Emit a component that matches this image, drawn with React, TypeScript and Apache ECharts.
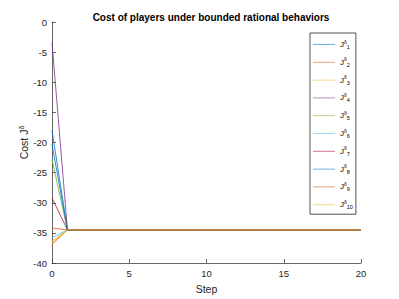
import React, { useEffect, useRef } from "react";
import * as echarts from "echarts";

const steps = [0,1,2,3,4,5,6,7,8,9,10,11,12,13,14,15,16,17,18,19,20];
const names = ["J1","J2","J3","J4","J5","J6","J7","J8","J9","J10"];
const colors = ["#0072BD","#D95319","#EDB120","#7E2F8E","#77AC30","#4DBEEE","#A2142F","#0072BD","#D95319","#EDB120"];

const j1 = [-18.0,-34.5,-34.5,-34.5,-34.5,-34.5,-34.5,-34.5,-34.5,-34.5,-34.5,-34.5,-34.5,-34.5,-34.5,-34.5,-34.5,-34.5,-34.5,-34.5,-34.5];
const j2 = [-34.2,-34.5,-34.5,-34.5,-34.5,-34.5,-34.5,-34.5,-34.5,-34.5,-34.5,-34.5,-34.5,-34.5,-34.5,-34.5,-34.5,-34.5,-34.5,-34.5,-34.5];
const j3 = [-36.4,-34.5,-34.5,-34.5,-34.5,-34.5,-34.5,-34.5,-34.5,-34.5,-34.5,-34.5,-34.5,-34.5,-34.5,-34.5,-34.5,-34.5,-34.5,-34.5,-34.5];
const j4 = [-3.4,-34.5,-34.5,-34.5,-34.5,-34.5,-34.5,-34.5,-34.5,-34.5,-34.5,-34.5,-34.5,-34.5,-34.5,-34.5,-34.5,-34.5,-34.5,-34.5,-34.5];
const j5 = [-22.8,-34.5,-34.5,-34.5,-34.5,-34.5,-34.5,-34.5,-34.5,-34.5,-34.5,-34.5,-34.5,-34.5,-34.5,-34.5,-34.5,-34.5,-34.5,-34.5,-34.5];
const j6 = [-35.8,-34.5,-34.5,-34.5,-34.5,-34.5,-34.5,-34.5,-34.5,-34.5,-34.5,-34.5,-34.5,-34.5,-34.5,-34.5,-34.5,-34.5,-34.5,-34.5,-34.5];
const j7 = [-29.2,-34.5,-34.5,-34.5,-34.5,-34.5,-34.5,-34.5,-34.5,-34.5,-34.5,-34.5,-34.5,-34.5,-34.5,-34.5,-34.5,-34.5,-34.5,-34.5,-34.5];
const j8 = [-20.3,-34.5,-34.5,-34.5,-34.5,-34.5,-34.5,-34.5,-34.5,-34.5,-34.5,-34.5,-34.5,-34.5,-34.5,-34.5,-34.5,-34.5,-34.5,-34.5,-34.5];
const j9 = [-36.9,-34.5,-34.5,-34.5,-34.5,-34.5,-34.5,-34.5,-34.5,-34.5,-34.5,-34.5,-34.5,-34.5,-34.5,-34.5,-34.5,-34.5,-34.5,-34.5,-34.5];
const j10 = [-36.7,-34.5,-34.5,-34.5,-34.5,-34.5,-34.5,-34.5,-34.5,-34.5,-34.5,-34.5,-34.5,-34.5,-34.5,-34.5,-34.5,-34.5,-34.5,-34.5,-34.5];
const seriesValues = [j1, j2, j3, j4, j5, j6, j7, j8, j9, j10];

const FONT = "'Liberation Sans', Arial, sans-serif";

export default function App() {
  const ref = useRef<HTMLDivElement>(null);
  useEffect(() => {
    if (!ref.current) return;
    const chart = echarts.init(ref.current, undefined, { renderer: "svg" });
    const axisColor = "#404040";
    chart.setOption({
      animation: false,
      backgroundColor: "#ffffff",
      title: {
        text: "Cost of players under bounded rational behaviors",
        left: 206,
        textAlign: "center",
        top: 7,
        textStyle: { fontFamily: FONT, fontSize: 10, fontWeight: "bold", color: "#000" },
      },
      grid: { left: 52, right: 38, top: 22, bottom: 32 },
      legend: {
        data: names,
        orient: "vertical",
        left: 310,
        top: 33,
        icon: "rect",
        itemWidth: 22,
        itemHeight: 1,
        itemGap: 6.8,
        itemStyle: { opacity: 0.55 },
        padding: [6, 3, 4, 3],
        borderColor: "#262626",
        borderWidth: 0.8,
        backgroundColor: "#fff",
        formatter: (n: string) => `{j|J}{s|δ}{n|${n.slice(1)}}`,
        textStyle: {
          fontFamily: FONT,
          color: "#000",
          rich: {
            j: { fontSize: 8, fontFamily: FONT, color: "#000", verticalAlign: "middle" },
            s: { fontSize: 5, fontFamily: FONT, color: "#000", verticalAlign: "top", padding: [0, 0, 5, 0] },
            n: { fontSize: 5.5, fontFamily: FONT, color: "#000", verticalAlign: "bottom", padding: [5, 0, 0, 0] },
          },
        },
      },
      xAxis: {
        type: "value",
        min: 0,
        max: 20,
        interval: 5,
        name: "Step",
        nameLocation: "middle",
        nameGap: 20,
        nameMoveOverlap: false,
        nameTextStyle: { fontFamily: FONT, fontSize: 10.5, color: "#262626" },
        axisLine: { show: true, onZero: false, lineStyle: { color: axisColor, width: 0.8 } },
        axisTick: { show: true, inside: true, length: 4, lineStyle: { color: axisColor, width: 0.8 } },
        axisLabel: { fontFamily: FONT, fontSize: 9.5, color: "#262626", margin: 5 },
        splitLine: { show: false },
      },
      yAxis: {
        type: "value",
        min: -40,
        max: 0,
        interval: 5,
        name: "Cost J{s|δ}",
        nameLocation: "middle",
        nameRotate: 90,
        nameGap: 22,
        nameMoveOverlap: false,
        nameTextStyle: {
          fontFamily: FONT,
          fontSize: 10.5,
          color: "#262626",
          rich: { s: { fontSize: 7, fontFamily: FONT, color: "#262626", verticalAlign: "top", padding: [0, 0, 5, 0] } },
        },
        axisLine: { show: true, onZero: false, lineStyle: { color: axisColor, width: 0.8 } },
        axisTick: { show: true, inside: true, length: 4, lineStyle: { color: axisColor, width: 0.8 } },
        axisLabel: { fontFamily: FONT, fontSize: 9.5, color: "#262626", margin: 5 },
        splitLine: { show: false },
      },
      series: seriesValues.map((vals, i) => ({
        name: names[i],
        type: "line",
        data: steps.map((s, k) => [s, vals[k]]),
        showSymbol: false,
        symbol: "none",
        color: colors[i],
        lineStyle: { width: 0.8, color: colors[i] },
      })),
    });
    return () => chart.dispose();
  }, []);
  return <div ref={ref} style={{ width: 399, height: 299, position: "fixed", left: 0, top: 0 }} />;
}
